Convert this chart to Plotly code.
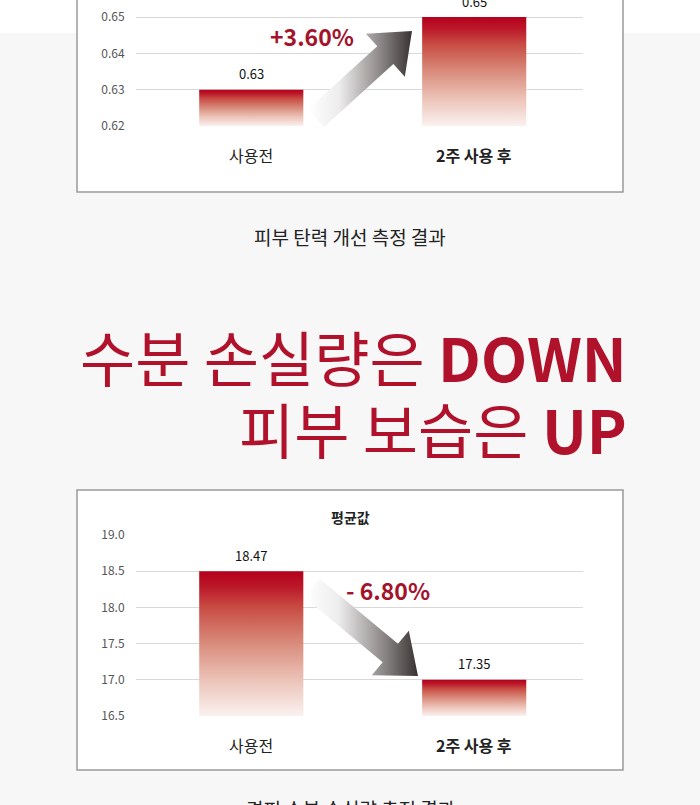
import math
import plotly.graph_objects as go

# ---------------- data ----------------
categories = ["사용전", "2주 사용 후"]

elastic_values = [0.63, 0.65]
elastic_labels = ["0.63", "0.65"]
elastic_ticks = [0.62, 0.63, 0.64, 0.65]
elastic_change = "+3.60%"
elastic_caption = "피부 탄력 개선 측정 결과"

moist_values = [18.5, 17.0]          # bar tops as drawn in the picture
moist_labels = ["18.47", "17.35"]    # printed value labels
moist_ticks = [16.5, 17.0, 17.5, 18.0, 18.5, 19.0]
moist_change = "- 6.80%"
moist_title = "평균값"
moist_caption = "경피 수분 손실량 측정 결과"

headline_1 = "수분 손실량은 <b>DOWN</b>"
headline_2 = "피부 보습은 <b>UP</b>"

# ---------------- layout helpers ----------------
W, H = 700, 805
FONT = "Noto Sans CJK KR"
RED = "#b0112b"
PCT_RED = "#a3142c"


def px(x):
    return x / W


def py(y):
    return 1 - y / H


PLOT_X0, PLOT_X1 = 136, 583
X_RANGE = [-0.517, 1.488]
BAR_W = 0.467

BAR_SCALE = [
    [0.0, "#faf1ef"],
    [0.25, "#ecc3b8"],
    [0.5, "#d98c7c"],
    [0.75, "#c84c44"],
    [0.9, "#bb1628"],
    [1.0, "#b5001c"],
]
ARROW_SCALE = [
    [0.0, "rgba(255,255,255,1)"],
    [0.3, "#eeeded"],
    [0.7, "#8c8787"],
    [1.0, "#383233"],
]

fig = go.Figure()


def add_bars(values, base, xa, ya):
    for i, v in enumerate(values):
        x0, x1 = i - BAR_W / 2, i + BAR_W / 2
        fig.add_trace(go.Scatter(
            x=[x0, x0, x1, x1, x0], y=[base, v, v, base, base],
            xaxis=xa, yaxis=ya, mode="lines",
            line=dict(width=0, color="rgba(0,0,0,0)"),
            fill="toself",
            fillgradient=dict(type="vertical", colorscale=BAR_SCALE),
            hoverinfo="skip", showlegend=False,
        ))


def arrow_polygon(tail, tip, sw, hw, hl):
    dx, dy = tip[0] - tail[0], tip[1] - tail[1]
    L = math.hypot(dx, dy)
    ux, uy = dx / L, dy / L
    nx, ny = -uy, ux
    bx, by = tip[0] - hl * ux, tip[1] - hl * uy
    pts = [
        (tail[0] + sw * nx, tail[1] + sw * ny),
        (bx + sw * nx, by + sw * ny),
        (bx + hw * nx, by + hw * ny),
        tip,
        (bx - hw * nx, by - hw * ny),
        (bx - sw * nx, by - sw * ny),
        (tail[0] - sw * nx, tail[1] - sw * ny),
    ]
    pts.append(pts[0])
    return [p[0] for p in pts], [p[1] for p in pts]


def add_arrow(tail, tip):
    xs, ys = arrow_polygon(tail, tip, 12, 29, 36)
    fig.add_trace(go.Scatter(
        x=xs, y=ys, xaxis="x3", yaxis="y3", mode="lines",
        line=dict(width=0, color="rgba(0,0,0,0)"),
        fill="toself",
        fillgradient=dict(type="horizontal", colorscale=ARROW_SCALE),
        hoverinfo="skip", showlegend=False,
    ))


# bars
add_bars(elastic_values, elastic_ticks[0], "x", "y")
add_bars(moist_values, moist_ticks[0], "x2", "y2")

# arrows (decoration, pixel space)
add_arrow((316, 118), (412, 31))
add_arrow((312, 588), (418, 676))

annotations = []


def note(x, y, text, size, color, xanchor="center", yanchor="middle", **kw):
    annotations.append(dict(
        x=x, y=y, xref="paper", yref="paper", text=text, showarrow=False,
        xanchor=xanchor, yanchor=yanchor,
        font=dict(family=FONT, size=size, color=color), **kw))


# value labels above bars and category labels under the plots
for xa, ya, vals, labs in (("x", "y", elastic_values, elastic_labels),
                           ("x2", "y2", moist_values, moist_labels)):
    for i, (v, t) in enumerate(zip(vals, labs)):
        annotations.append(dict(
            x=i, y=v, xref=xa, yref=ya, text=t, showarrow=False,
            xanchor="center", yanchor="middle",
            yshift=16, font=dict(family=FONT, size=13, color="#111"),
        ))
    for i, c in enumerate(categories):
        annotations.append(dict(
            x=i, y=0, xref=xa, yref=ya + " domain",
            text=(f"<b>{c}</b>" if i == 1 else c),
            showarrow=False, yshift=-29, xanchor="center", yanchor="middle",
            font=dict(family=FONT, size=16, color="#222"),
        ))

# percent change labels
note(px(312), py(36), f"<b>{elastic_change}</b>", 23, PCT_RED)
note(px(388), py(590), f"<b>{moist_change}</b>", 23, PCT_RED)

# captions, titles and headline
note(0.5, py(236), elastic_caption, 19, "#222")
note(px(350), py(517), f"<b>{moist_title}</b>", 14, "#222")
note(0.5, py(808), moist_caption, 19, "#222")
# headline: one two-line text; line pitch from the base size (55 * 1.3 ≈ 72px),
# glyphs drawn at 60px through the span style
big = '<span style="font-size:60px">{}</span>'
note(px(629), py(391), big.format(headline_1) + "<br>" + big.format(headline_2),
     55, RED, xanchor="right", align="right")

shapes = [
    # white band at the very top
    dict(type="rect", xref="paper", yref="paper", x0=0, x1=1, y0=py(33), y1=py(-5),
         fillcolor="white", line=dict(width=0), layer="below"),
    # chart boxes
    dict(type="rect", xref="paper", yref="paper", x0=px(77), x1=px(623), y0=py(192), y1=py(-10),
         fillcolor="white", line=dict(color="#9a9a9a", width=1.5), layer="below"),
    dict(type="rect", xref="paper", yref="paper", x0=px(77), x1=px(623), y0=py(770), y1=py(490),
         fillcolor="white", line=dict(color="#9a9a9a", width=1.5), layer="below"),
]

top_px_per_unit = (126 - 17) / (elastic_ticks[-1] - elastic_ticks[0])
top_range_max = elastic_ticks[-1] + 17 / top_px_per_unit

yaxis_common = dict(
    showgrid=True, gridcolor="#d9d9d9", gridwidth=1, zeroline=False,
    showline=False, ticks="outside", ticklen=8, tickcolor="rgba(0,0,0,0)",
    tickfont=dict(family=FONT, size=12, color="#555"), fixedrange=True,
    automargin=False,
)
xaxis_common = dict(
    range=X_RANGE, domain=[px(PLOT_X0), px(PLOT_X1)], showgrid=False, zeroline=False,
    showline=False, showticklabels=False, ticks="", fixedrange=True,
    automargin=False,
)

fig.update_layout(
    template="none",
    width=W, height=H,
    margin=dict(l=0, r=0, t=0, b=0, pad=0, autoexpand=False),
    paper_bgcolor="#f7f7f7",
    plot_bgcolor="rgba(0,0,0,0)",
    showlegend=False,
    font=dict(family=FONT),
    xaxis=dict(**xaxis_common, anchor="y"),
    yaxis=dict(**yaxis_common, anchor="x", domain=[py(126), 1],
               range=[elastic_ticks[0], top_range_max],
               tickvals=elastic_ticks, ticktext=[f"{t:.2f}" for t in elastic_ticks]),
    xaxis2=dict(**xaxis_common, anchor="y2"),
    yaxis2=dict(**yaxis_common, anchor="x2", domain=[py(716), py(535)],
                range=[moist_ticks[0], moist_ticks[-1]],
                tickvals=moist_ticks, ticktext=[f"{t:.1f}" for t in moist_ticks]),
    xaxis3=dict(domain=[0, 1], range=[0, W], visible=False, fixedrange=True,
                anchor="y3", automargin=False),
    yaxis3=dict(domain=[0, 1], range=[H, 0], visible=False, fixedrange=True,
                anchor="x3", automargin=False),
    annotations=annotations,
    shapes=shapes,
)

fig.write_html("out.html")
